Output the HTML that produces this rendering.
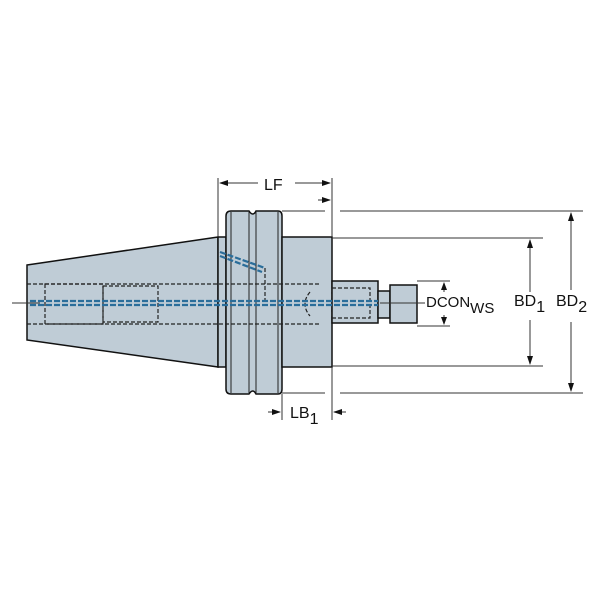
<!DOCTYPE html>
<html><head><style>body{margin:0;background:#fff}svg{display:block}text{font-family:"Liberation Sans",sans-serif;fill:#111}</style></head><body>
<svg width="600" height="600" viewBox="0 0 600 600" xmlns="http://www.w3.org/2000/svg">
<g stroke="#111" stroke-width="1.5" fill="#bfccd6">
<polygon points="27,265 218,237 218,367 27,340"/>
<rect x="218" y="237" width="8" height="130"/>
<path d="M226,216 Q226,211 231,211 L249,211 Q253,217 256,211 L278,211 Q282,211 282,216 L282,389 Q282,394 278,394 L256,394 Q253,388 249,394 L231,394 Q226,394 226,389 Z"/>
<rect x="282" y="237" width="50" height="130"/>
<rect x="332" y="281" width="46" height="42"/>
<rect x="378" y="291" width="12" height="27"/>
<rect x="390" y="285" width="27" height="38"/>
</g>
<g stroke="#222" stroke-width="1" fill="none">
<line x1="231" y1="212" x2="231" y2="393"/><line x1="249" y1="212" x2="249" y2="393"/><line x1="256" y1="212" x2="256" y2="393"/><line x1="278" y1="212" x2="278" y2="393"/>
</g>
<g stroke="#222" stroke-width="1.2" fill="none" stroke-dasharray="4,2">
<line x1="27" y1="284" x2="320" y2="284"/><line x1="27" y1="324" x2="320" y2="324"/>
<rect x="45" y="284" width="58" height="40"/><rect x="103" y="286" width="55" height="36"/>
<rect x="332" y="288" width="38" height="30"/>
<path d="M310,292 Q300,304 310,316"/>
<path d="M265,268 L265,300"/>
</g>
<g stroke="#2a6d9a" stroke-width="2.2" fill="none" stroke-dasharray="6,2">
<line x1="30" y1="301" x2="378" y2="301"/><line x1="30" y1="305" x2="378" y2="305"/>
<path d="M220,252 L265,268"/><path d="M220,256 L262,272"/>
</g>
<g stroke="#333" stroke-width="1" fill="none">
<line x1="12" y1="303" x2="40" y2="303"/><line x1="380" y1="303" x2="425" y2="303"/>
<line x1="218" y1="178" x2="218" y2="237"/><line x1="332" y1="178" x2="332" y2="237"/>
<line x1="220" y1="183" x2="258" y2="183"/><line x1="295" y1="183" x2="330" y2="183"/>
<line x1="282" y1="394" x2="282" y2="420"/><line x1="332" y1="367" x2="332" y2="420"/>
<line x1="268" y1="412" x2="280" y2="412"/><line x1="334" y1="412" x2="346" y2="412"/>
<line x1="318" y1="200" x2="330" y2="200"/>
<line x1="282" y1="211" x2="325" y2="211"/><line x1="340" y1="211" x2="583" y2="211"/>
<line x1="332" y1="238" x2="543" y2="238"/><line x1="332" y1="366" x2="543" y2="366"/>
<line x1="282" y1="393" x2="325" y2="393"/><line x1="340" y1="393" x2="583" y2="393"/>
<line x1="417" y1="281" x2="450" y2="281"/><line x1="417" y1="326" x2="450" y2="326"/>
<line x1="571" y1="213" x2="571" y2="290"/><line x1="571" y1="322" x2="571" y2="391"/>
<line x1="530" y1="240" x2="530" y2="292"/><line x1="530" y1="320" x2="530" y2="364"/>
<line x1="444" y1="283" x2="444" y2="292"/><line x1="444" y1="315" x2="444" y2="324"/>
</g>
<g fill="#111">
<polygon points="219,183 228,180 228,186"/><polygon points="331,183 322,180 322,186"/>
<polygon points="331,200 322,197 322,203"/>
<polygon points="281,412 272,409 272,415"/><polygon points="333,412 342,409 342,415"/>
<polygon points="571,212 568,221 574,221"/><polygon points="571,392 568,383 574,383"/>
<polygon points="530,239 527,248 533,248"/><polygon points="530,365 527,356 533,356"/>
<polygon points="444,282 441,290 447,290"/><polygon points="444,325 441,317 447,317"/>
</g>
<text x="264" y="190" font-size="16">LF</text>
<text x="290" y="418" font-size="16">LB<tspan dy="6">1</tspan></text>
<text x="426" y="307" font-size="15">DCON<tspan dy="6">WS</tspan></text>
<text x="514" y="306" font-size="16">BD<tspan dy="6">1</tspan></text>
<text x="556" y="306" font-size="16">BD<tspan dy="6">2</tspan></text>
</svg>
</body></html>
